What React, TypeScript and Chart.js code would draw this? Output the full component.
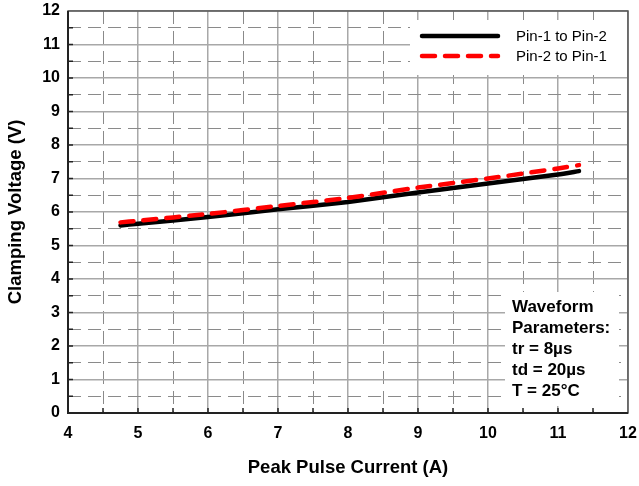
import React, { useEffect, useRef } from "react";
import { Chart, registerables } from "chart.js";

Chart.register(...registerables);

const currentA = [4.75, 5, 6, 7, 8, 9, 10, 11, 11.3];
const pin1ToPin2 = [5.6, 5.65, 5.85, 6.08, 6.3, 6.58, 6.85, 7.12, 7.22];
const pin2ToPin1 = [5.69, 5.74, 5.94, 6.18, 6.42, 6.73, 7.0, 7.3, 7.4];
const seriesLabels = ["Pin-1 to Pin-2", "Pin-2 to Pin-1"];
const xHalfTicks = [4.5, 5.5, 6.5, 7.5, 8.5, 9.5, 10.5, 11.5];
const yHalfTicks = [0.5, 1.5, 2.5, 3.5, 4.5, 5.5, 6.5, 7.5, 8.5, 9.5, 10.5, 11.5];
const noteLines = ["Waveform", "Parameters:", "tr = 8\u00b5s", "td = 20\u00b5s", "T = 25\u00b0C"];

const FONT = "Arial, 'Liberation Sans', sans-serif";

const framePlugin = {
  id: "frame",
  beforeDatasetsDraw(chart: any) {
    const { ctx, chartArea: a, scales } = chart;
    ctx.save();
    ctx.strokeStyle = "#555";
    ctx.lineWidth = 1.5;
    ctx.strokeRect(a.left, a.top, a.right - a.left, a.bottom - a.top);
    ctx.strokeStyle = "#222";
    ctx.lineWidth = 2;
    ctx.beginPath();
    ctx.moveTo(a.left, a.top);
    ctx.lineTo(a.left, a.bottom);
    ctx.lineTo(a.right, a.bottom);
    ctx.stroke();
    ctx.lineWidth = 1.5;
    ctx.beginPath();
    const ys = [...yHalfTicks, 1, 2, 3, 4, 5, 6, 7, 8, 9, 10, 11];
    ys.forEach((v) => {
      const p = scales.y.getPixelForValue(v);
      ctx.moveTo(a.left, p);
      ctx.lineTo(a.left + 5, p);
    });
    const xs = [...xHalfTicks, 5, 6, 7, 8, 9, 10, 11];
    xs.forEach((v) => {
      const p = scales.x.getPixelForValue(v);
      ctx.moveTo(p, a.bottom);
      ctx.lineTo(p, a.bottom - 5);
    });
    ctx.stroke();
    ctx.restore();
  },
  afterDraw(chart: any) {
    const { ctx, chartArea: a, data } = chart;
    ctx.save();
    // legend box
    const lx = a.left + 342;
    const ly = a.top + 9;
    ctx.fillStyle = "#fff";
    ctx.fillRect(lx, ly, a.right - lx - 1, 55);
    const rows = [
      { y: ly + 16, ds: data.datasets[1] },
      { y: ly + 36, ds: data.datasets[0] },
    ];
    rows.forEach((r, i) => {
      ctx.strokeStyle = r.ds.borderColor;
      ctx.lineWidth = 4.5;
      ctx.lineCap = "round";
      ctx.setLineDash(i === 0 ? [] : [13, 10]);
      ctx.beginPath();
      ctx.moveTo(lx + 12, r.y);
      ctx.lineTo(lx + 88, r.y);
      ctx.stroke();
      ctx.setLineDash([]);
      ctx.fillStyle = "#000";
      ctx.font = `15px ${FONT}`;
      ctx.textBaseline = "middle";
      ctx.fillText(r.ds.label, lx + 106, r.y + 1);
    });
    // note box
    const nx = a.left + 437;
    const ny = a.top + 281;
    ctx.fillStyle = "#fff";
    ctx.fillRect(nx, ny, 114, 114);
    ctx.fillStyle = "#000";
    ctx.font = `bold 17px ${FONT}`;
    ctx.textBaseline = "middle";
    noteLines.forEach((t, i) => {
      ctx.fillText(t, nx + 7, ny + 15 + i * 21);
    });
    ctx.restore();
  },
};

export default function App() {
  const ref = useRef<HTMLCanvasElement | null>(null);
  useEffect(() => {
    document.body.style.margin = "0";
    const canvas = ref.current!;
    const mk = (xs: number[], ys: number[]) => xs.map((x, i) => ({ x, y: ys[i] }));
    const chart = new Chart(canvas, {
      type: "scatter",
      data: {
        datasets: [
          {
            label: seriesLabels[1],
            data: mk(currentA, pin2ToPin1),
            borderColor: "#ff0000",
            backgroundColor: "#ff0000",
            borderWidth: 4.5,
            borderDash: [13, 10],
            borderCapStyle: "round",
            showLine: true,
            pointRadius: 0,
            tension: 0.2,
            order: 1,
          } as any,
          {
            label: seriesLabels[0],
            data: mk(currentA, pin1ToPin2),
            borderColor: "#000000",
            backgroundColor: "#000000",
            borderWidth: 4.5,
            borderCapStyle: "round",
            showLine: true,
            pointRadius: 0,
            tension: 0.2,
            order: 2,
          } as any,
        ],
      },
      options: {
        animation: false,
        responsive: false,
        maintainAspectRatio: false,
        layout: { padding: { top: 11, right: 11, left: 0, bottom: 0 } },
        plugins: { legend: { display: false }, tooltip: { enabled: false } },
        scales: {
          x: {
            type: "linear",
            min: 4,
            max: 12,
            position: "bottom",
            ticks: { stepSize: 1, color: "#000", font: { family: FONT, size: 16, weight: "bold" }, padding: 11 },
            grid: { color: "#a8a8a8", lineWidth: 1.5, drawTicks: false },
            border: { display: false },
            title: {
              display: true,
              text: "Peak Pulse Current (A)",
              color: "#000",
              font: { family: FONT, size: 18.5, weight: "bold" },
              padding: { top: 0, bottom: 7 },
            },
            afterFit: (s: any) => {
              s.height = 73;
              s.paddingLeft = 0;
              s.paddingRight = 0;
            },
          },
          x2: {
            type: "linear",
            min: 4,
            max: 12,
            position: "bottom",
            ticks: { display: false },
            grid: { color: "#8a8a8a", lineWidth: 1, drawTicks: false },
            border: { display: false, dash: [13, 7] },
            afterBuildTicks: (s: any) => {
              s.ticks = xHalfTicks.map((v) => ({ value: v }));
            },
            afterFit: (s: any) => {
              s.height = 0;
              s.paddingLeft = 0;
              s.paddingRight = 0;
            },
          },
          y: {
            type: "linear",
            min: 0,
            max: 12,
            position: "left",
            ticks: { stepSize: 1, color: "#000", font: { family: FONT, size: 16, weight: "bold" }, padding: 8 },
            grid: { color: "#a8a8a8", lineWidth: 1.5, drawTicks: false },
            border: { display: false },
            title: {
              display: true,
              text: "Clamping Voltage (V)",
              color: "#000",
              font: { family: FONT, size: 18.5, weight: "bold" },
              padding: { top: 5, bottom: 0 },
            },
            afterFit: (s: any) => {
              s.width = 68;
              s.paddingTop = 0;
              s.paddingBottom = 0;
            },
          },
          y2: {
            type: "linear",
            min: 0,
            max: 12,
            position: "left",
            ticks: { display: false },
            grid: { color: "#8a8a8a", lineWidth: 1, drawTicks: false },
            border: { display: false, dash: [13, 7] },
            afterBuildTicks: (s: any) => {
              s.ticks = yHalfTicks.map((v) => ({ value: v }));
            },
            afterFit: (s: any) => {
              s.width = 0;
              s.paddingTop = 0;
              s.paddingBottom = 0;
            },
          },
        },
      } as any,
      plugins: [framePlugin],
    });
    return () => chart.destroy();
  }, []);
  return (
    <div style={{ width: 639, height: 486, background: "#fff" }}>
      <canvas ref={ref} width={639} height={486} style={{ display: "block" }} />
    </div>
  );
}
